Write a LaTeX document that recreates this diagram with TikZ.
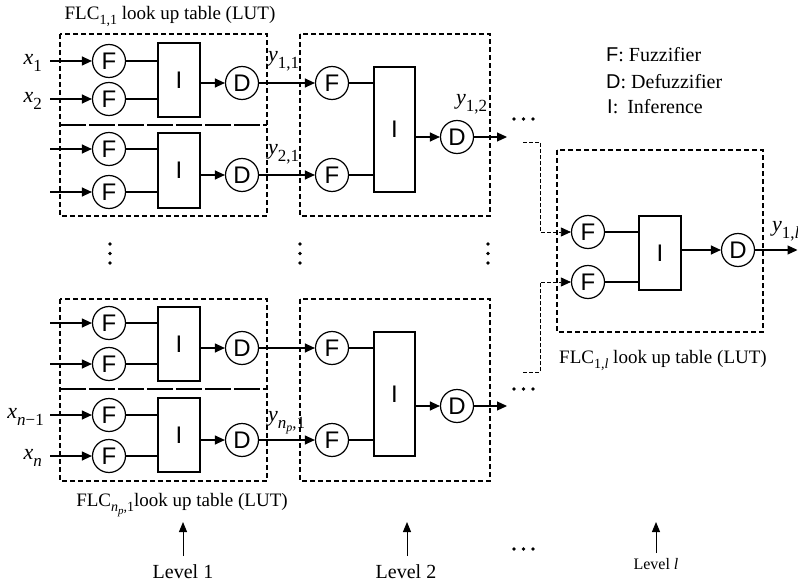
\documentclass[tikz,border=0pt]{standalone}
\usepackage{fontspec}
\setmainfont{Liberation Serif}
\newfontfamily\hel{Liberation Sans}
\usetikzlibrary{arrows.meta}
\newcommand\vsub[1]{\raisebox{-7pt}{\fontsize{17}{17}\selectfont #1}}
\newcommand\varlab[2]{{\fontsize{22}{22}\selectfont\itshape #1}\vsub{#2}}
\newcommand\fsub[1]{\raisebox{-5pt}{\fontsize{14}{14}\selectfont #1}}
\tikzset{
  fz/.style={circle, draw, line width=1.2pt, minimum size=33pt, inner sep=0pt, font=\hel\fontsize{24}{24}\selectfont},
  ibox/.style={draw, line width=1.2pt, minimum width=42pt, inner sep=0pt, font=\hel\fontsize{24}{24}\selectfont},
  lut/.style={draw, line width=1.9pt, dash pattern=on 5pt off 3pt},
  lutdiv/.style={draw, line width=1.9pt, dash pattern=on 26pt off 3pt},
  ln/.style={line width=1.2pt},
  arr/.style={line width=1.2pt, -{Triangle[length=10pt,width=9pt]}},
  dconn/.style={line width=0.8pt, dash pattern=on 4pt off 2pt, -{Triangle[length=10pt,width=9pt]}},
  larr/.style={line width=1pt, -{Triangle[length=10pt,width=8pt]}},
  lbl/.style={inner sep=0pt, font=\fontsize{19}{22}\selectfont},
  lgd/.style={inner sep=0pt, anchor=west, font=\fontsize{20}{22}\selectfont},
  vlab/.style={inner sep=0pt},
}
\begin{document}
\begin{tikzpicture}[x=1pt,y=-1pt]
\useasboundingbox (0,0) rectangle (798,583);
% ---------- Level 1, upper group ----------
\draw[lut] (60,34) rectangle (267,216);
\draw[lutdiv] (60,125) -- (267,125);
\node[fz] (fa1) at (109,61) {F};
\node[fz] (fa2) at (109,99) {F};
\node[ibox, minimum height=74pt] (ia1) at (179,80) {I};
\node[fz] (da1) at (242,83) {D};
\node[fz] (fa3) at (109,149) {F};
\node[fz] (fa4) at (109,192) {F};
\node[ibox, minimum height=75pt] (ia2) at (179,170.5) {I};
\node[fz] (da2) at (242,175) {D};
% ---------- Level 1, lower group ----------
\draw[lut] (60,299) rectangle (267,481);
\draw[lutdiv] (60,389) -- (267,389);
\node[fz] (fb1) at (109,323) {F};
\node[fz] (fb2) at (109,364) {F};
\node[ibox, minimum height=74pt] (ib1) at (179,344) {I};
\node[fz] (db1) at (242,348) {D};
\node[fz] (fb3) at (109,415) {F};
\node[fz] (fb4) at (109,456) {F};
\node[ibox, minimum height=74pt] (ib2) at (179,435) {I};
\node[fz] (db2) at (242,440) {D};
% inputs
\coordinate (in1) at (50,61);
\coordinate (in2) at (50,99);
\coordinate (in3) at (50,149);
\coordinate (in4) at (50,192);
\coordinate (in5) at (50,323);
\coordinate (in6) at (50,364);
\coordinate (in7) at (50,415);
\coordinate (in8) at (50,456);
\foreach \i/\f in {in1/fa1,in2/fa2,in3/fa3,in4/fa4,in5/fb1,in6/fb2,in7/fb3,in8/fb4}
  \draw[arr] (\i) -- (\f);
\foreach \f/\b in {fa1/ia1,fa2/ia1,fa3/ia2,fa4/ia2,fb1/ib1,fb2/ib1,fb3/ib2,fb4/ib2}
  \draw[ln] (\f) -- (\f -| \b.west);
\foreach \b/\d in {ia1/da1,ia2/da2,ib1/db1,ib2/db2}
  \draw[arr] (\b.east |- \d) -- (\d);
\node[vlab, anchor=base east] (x1) at (42,65) {\varlab{x}{1}};
\node[vlab, anchor=base east] (x2) at (42,103) {\varlab{x}{2}};
\node[vlab, anchor=base east] (xn1) at (44,418) {\varlab{x}{\textit{n}−1}};
\node[vlab, anchor=base east] (xn) at (42,459) {\varlab{x}{\textit{n}}};
% ---------- Level 2 ----------
\draw[lut] (300,34) rectangle (490,216);
\node[fz] (f2a) at (332,83) {F};
\node[fz] (f2b) at (332,175) {F};
\node[ibox, minimum height=125pt, minimum width=41pt] (i2a) at (394.5,129.5) {I};
\node[fz] (d2a) at (457,137) {D};
\draw[lut] (300,299) rectangle (490,481);
\node[fz] (f2c) at (332,348) {F};
\node[fz] (f2d) at (332,440) {F};
\node[ibox, minimum height=124pt, minimum width=41pt] (i2b) at (394.5,394) {I};
\node[fz] (d2b) at (457,406) {D};
\draw[arr] (da1) -- (f2a);
\draw[arr] (da2) -- (f2b);
\draw[arr] (db1) -- (f2c);
\draw[arr] (db2) -- (f2d);
\foreach \f/\b in {f2a/i2a,f2b/i2a,f2c/i2b,f2d/i2b}
  \draw[ln] (\f) -- (\f -| \b.west);
\draw[arr] (i2a.east |- d2a) -- (d2a);
\draw[arr] (i2b.east |- d2b) -- (d2b);
\coordinate (o2a) at (507,137);
\coordinate (o2b) at (507,406);
\draw[arr] (d2a) -- (o2a);
\draw[arr] (d2b) -- (o2b);
\node[vlab, anchor=base west] (y11) at (268,62) {\varlab{y}{1,1}};
\node[vlab, anchor=base west] (y21) at (268,155) {\varlab{y}{2,1}};
\node[vlab, anchor=base west] (ynp) at (268,421) {\varlab{y}{\textit{n}\raisebox{-3pt}{\fontsize{12}{12}\selectfont\textit{p}},1}};
\node[vlab, anchor=base west] (y12) at (456,105) {\varlab{y}{1,2}};
% ---------- Level l ----------
\draw[lut] (557,150) rectangle (763,332);
\node[fz] (fl1) at (588,232) {F};
\node[fz] (fl2) at (588,282) {F};
\node[ibox, minimum height=74pt] (il) at (660,253) {I};
\node[fz] (dl) at (738,250) {D};
\foreach \f in {fl1,fl2}
  \draw[ln] (\f) -- (\f -| il.west);
\draw[arr] (il.east |- dl) -- (dl);
\coordinate (ol) at (797.5,250);
\draw[arr] (dl) -- (ol);
\node[vlab, anchor=base west] (y1l) at (772,231) {\varlab{y}{1,\textit{l}}};
\coordinate (ca) at (523,142);
\coordinate (cab) at (540,142);
\coordinate (cb) at (523,372);
\coordinate (cbb) at (540,372);
\draw[dconn] (ca) -- (cab) |- (fl1);
\draw[dconn] (cb) -- (cbb) |- (fl2);
% ---------- dots ----------
\foreach \x in {110,300,488}
  \foreach \y in {244,253.5,263}
    \fill (\x,\y) circle (1.9pt);
\foreach \y in {119,389,549}
  \foreach \x in {514,523.5,533}
    \fill (\x,\y) circle (1.8pt);
% ---------- labels ----------
\node[lbl, anchor=base] (lut11) at (170,20) {FLC\fsub{1,1} look up table (LUT)};
\node[lbl, anchor=base] (lutnp) at (182,506) {FLC\fsub{\textit{n}\raisebox{-3pt}{\fontsize{11}{11}\selectfont\textit{p}},1}look up table (LUT)};
\node[lbl, anchor=base] (lut1l) at (663,363) {FLC\fsub{1,\textit{l}} look up table (LUT)};
\node[lgd] (lgf) at (606,55) {{\hel F}: Fuzzifier};
\node[lgd] (lgd) at (606,82) {{\hel D}: Defuzzifier};
\node[lgd] (lgi) at (607,107) {{\hel I}:\hspace{0.45em}Inference};
\node[lbl, anchor=base, font=\fontsize{20}{22}\selectfont] (lev1) at (183,578) {Level 1};
\node[lbl, anchor=base, font=\fontsize{20}{22}\selectfont] (lev2) at (406,578) {Level 2};
\node[lbl, anchor=base, font=\fontsize{16}{18}\selectfont] (levl) at (656,569) {Level \textit{l}};
\coordinate (a1) at (183,522);
\coordinate (a2) at (407,522);
\coordinate (a3) at (656,522);
\draw[larr] (183,556) -- (a1);
\draw[larr] (407,556) -- (a2);
\draw[larr] (656,553) -- (a3);
\end{tikzpicture}
\end{document}
